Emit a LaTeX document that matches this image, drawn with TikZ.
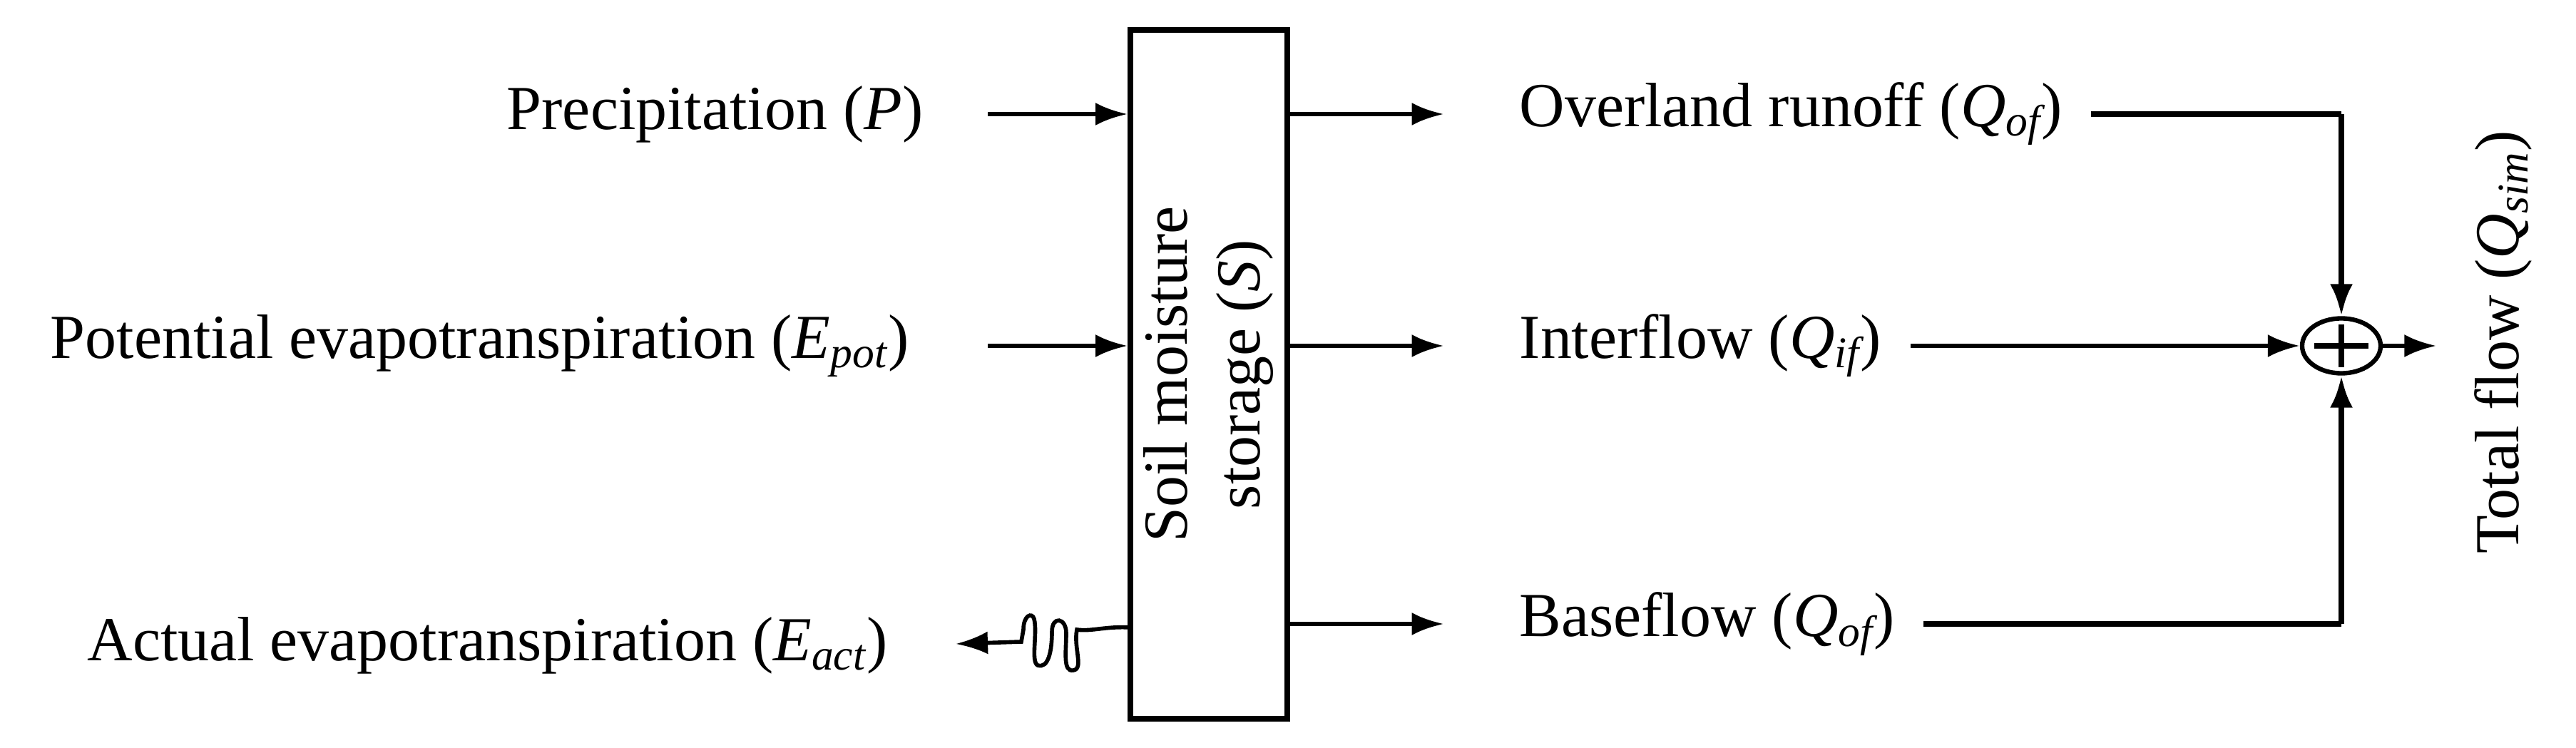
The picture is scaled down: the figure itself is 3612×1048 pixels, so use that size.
\documentclass[tikz,border=0pt]{standalone}
\usepackage{fontspec}
\setmainfont{Liberation Serif}
\usetikzlibrary{arrows.meta,positioning,shapes.geometric}
\tikzset{arrow/.style={-{Latex[length=0.45cm,width=0.32cm]}, line width=1.8pt},
  flow/.style={line width=2.4pt},
  lbl/.style={font=\fontsize{25}{29}\selectfont, inner sep=0pt}}

\begin{document}
\begin{tikzpicture}[x=0.01cm,y=0.01cm]
		\useasboundingbox (0,0) rectangle (3612,1048);
		
		% storage box
		\node[draw, line width=2.2pt, minimum width=2.2cm, minimum height=9.65cm, inner sep=0pt] (box) at (1695,523) {};
		\node[lbl, rotate=90] (boxtext) at (box.center) {\begin{tabular}{c}Soil moisture\\storage (\textit{S})\end{tabular}};
		
		% inputs
		\node[lbl, anchor=east] (prec) at (1295,888) {Precipitation (\textit{P})};
		\node[lbl, anchor=east] (epot) at (1275,563) {Potential evapotranspiration (\textit{E\textsubscript{pot}})};
		\node[lbl, anchor=east] (eact) at (1245,143) {Actual evapotranspiration (\textit{E\textsubscript{act}})};
		\coordinate (pin) at (1385,888);
		\coordinate (ein) at (1385,563);
		\draw[arrow] (pin) -- (pin -| box.west);
		\draw[arrow] (ein) -- (ein -| box.west);
		
		% evaporation squiggle
		\coordinate (sq) at (1585,168);
		\coordinate (eout) at (1340,145);
		\draw[line width=1.6pt, -{Latex[length=0.45cm,width=0.32cm]}] (sq) .. controls (1550,170) and (1530,162) .. (1510,165)
			.. controls (1505,140) and (1520,110) .. (1505,108) .. controls (1490,105) and (1495,135) .. (1495,160)
			.. controls (1495,182) and (1475,185) .. (1475,162) .. controls (1475,135) and (1470,110) .. (1455,115)
			.. controls (1445,120) and (1455,160) .. (1450,180) .. controls (1447,190) and (1435,185) .. (1435,165)
			-- (1432,148) -- (eout);
		
		% outputs
		\node[lbl, anchor=west] (qof) at (2130,888) {Overland runoff (\textit{Q\textsubscript{of}})};
		\node[lbl, anchor=west] (qif) at (2130,563) {Interflow (\textit{Q\textsubscript{if}})};
		\node[lbl, anchor=west] (qbf) at (2130,173) {Baseflow (\textit{Q\textsubscript{of}})};
		\draw[arrow, shorten >=30] (box.east |- qof) -- (qof.west);
		\draw[arrow, shorten >=30] (box.east |- qif) -- (qif.west);
		\draw[arrow, shorten >=30] (box.east |- qbf) -- (qbf.west);
		
		% summation
		\node[draw, ellipse, line width=1.8pt, minimum width=1.1cm, minimum height=0.77cm, inner sep=0pt] (sum) at (3283,563) {};
		\draw[line width=2.4pt] (sum.center) ++(-38,0) -- ++(76,0) (sum.center) ++(0,-30) -- ++(0,60);
		\coordinate (c1) at (3283,888);
		\coordinate (c2) at (3283,173);
		\draw[flow] (qof.east) ++(40,0) -- (c1);
		\draw[arrow, line width=2.4pt] (c1) -- (sum.north);
		\draw[flow] (qbf.east) ++(40,0) -- (c2);
		\draw[arrow, line width=2.4pt] (c2) -- (sum.south);
		\draw[arrow] (qif.east) ++(40,0) -- (sum.west);
		
		% total flow
		\node[lbl, rotate=90] (qsim) at (3510,568) {Total flow (\textit{Q\textsubscript{sim}})};
		\draw[arrow, shorten >=15] (sum.east) -- (qsim.north |- sum.east);
	\end{tikzpicture}
\end{document}
